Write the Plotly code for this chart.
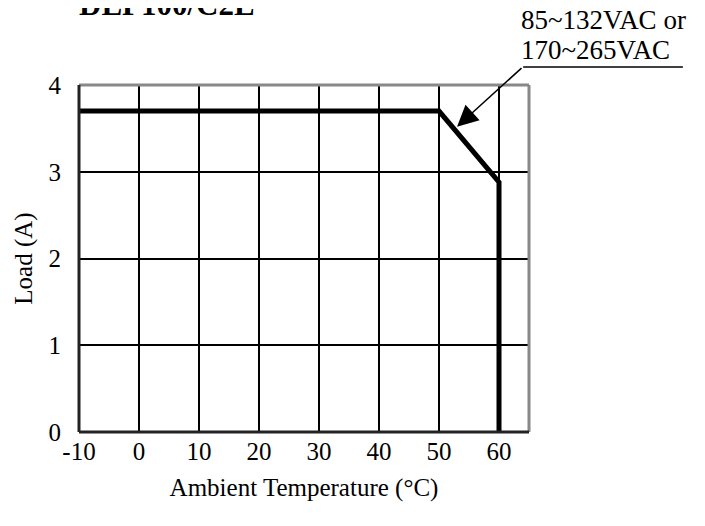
import plotly.graph_objects as go

# Data
temps = [-10, 50, 60, 60]
load = [3.7, 3.7, 2.88, 0]
x_ticks = [-10, 0, 10, 20, 30, 40, 50, 60]
y_ticks = [0, 1, 2, 3, 4]
title_text = "DLP100/C2E"
label_lines = ["85~132VAC or", "170~265VAC"]
x_title = "Ambient Temperature (°C)"
y_title = "Load (A)"

FONT = "Liberation Serif"

fig = go.Figure()
fig.add_trace(go.Scatter(x=temps, y=load, mode="lines",
                         line=dict(color="black", width=5),
                         hoverinfo="skip", showlegend=False))

L, R, T, B = 71, 184, 77, 102
fig.update_layout(
    width=705, height=526,
    margin=dict(l=L, r=R, t=T, b=B),
    paper_bgcolor="white", plot_bgcolor="white",
    font=dict(family=FONT, color="black", size=25),
    showlegend=False,
    xaxis=dict(range=[-10, 65], tickvals=x_ticks, ticktext=[str(v) for v in x_ticks],
               showgrid=True, gridcolor="black", gridwidth=2, zeroline=False,
               showline=False, ticks="", ticklabelstandoff=2,
               tickfont=dict(family=FONT, size=25),
               title=dict(text=x_title, font=dict(family=FONT, size=25), standoff=14),
               fixedrange=True),
    yaxis=dict(range=[0, 4], tickvals=y_ticks,
               showgrid=True, gridcolor="black", gridwidth=2, zeroline=False,
               showline=False, ticks="", ticklabelstandoff=17,
               tickfont=dict(family=FONT, size=25),
               title=dict(text=y_title, font=dict(family=FONT, size=25), standoff=8),
               fixedrange=True),
)

# frame: gray top/right, black left/bottom
fig.add_shape(type="line", xref="paper", yref="paper", x0=0, x1=1, y0=1, y1=1,
              line=dict(color="#888888", width=3))
fig.add_shape(type="line", xref="paper", yref="paper", x0=1, x1=1, y0=0, y1=1,
              line=dict(color="#888888", width=3))
fig.add_shape(type="line", xref="paper", yref="paper", x0=0, x1=0, y0=0, y1=1,
              line=dict(color="#222222", width=3))
fig.add_shape(type="line", xref="paper", yref="paper", x0=0, x1=1, y0=0, y1=0,
              line=dict(color="#222222", width=3))

# underline of label
fig.add_shape(type="line", xref="paper", yref="paper", x0=0.987, x1=1.342, y0=1.052, y1=1.052,
              line=dict(color="black", width=1.5))

# arrow
fig.add_annotation(x=53, y=3.52, ax=64, ay=4.21, xref="x", yref="y", axref="x", ayref="y",
                   text="", showarrow=True, arrowhead=2, arrowsize=2.8, arrowwidth=1.5,
                   arrowcolor="black")

# label (two lines)
for txt, yp in zip(label_lines, [1.187, 1.101]):
    fig.add_annotation(x=0.978, y=yp, xref="paper", yref="paper", xanchor="left", yanchor="middle",
                       text=txt, showarrow=False, align="left",
                       font=dict(family=FONT, size=27, color="black"))

# title (cut at top)
fig.add_annotation(x=-0.004, y=1.175, xref="paper", yref="paper", xanchor="left", yanchor="bottom",
                   text="<b>" + title_text + "</b>", showarrow=False,
                   font=dict(family=FONT, size=31, color="black"))

fig.write_html("out.html")
